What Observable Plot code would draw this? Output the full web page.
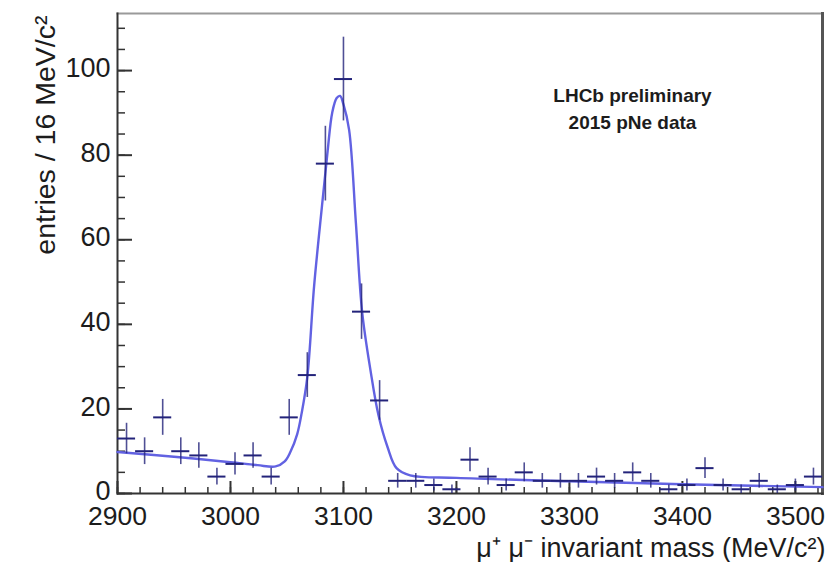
<!DOCTYPE html>
<html>
<head>
<meta charset="utf-8">
<script src="https://cdn.jsdelivr.net/npm/d3@7"></script>
<script src="https://cdn.jsdelivr.net/npm/@observablehq/plot@0.6"></script>
<style>
  html, body { margin: 0; padding: 0; background: #ffffff; }
  #chart { width: 838px; height: 562px; }
</style>
</head>
<body>
<div id="chart"></div>
<script>
// ---- Data ----
// bin centres (MeV/c^2), 16 MeV/c^2 bins from 2900 to 3524
const massBins = [2908, 2924, 2940, 2956, 2972, 2988, 3004, 3020, 3036, 3052,
                  3068, 3084, 3100, 3116, 3132, 3148, 3164, 3180, 3196, 3212,
                  3228, 3244, 3260, 3276, 3292, 3308, 3324, 3340, 3356, 3372,
                  3388, 3404, 3420, 3436, 3452, 3468, 3484, 3500, 3516];
const entries  = [13, 10, 18, 10, 9, 4, 7, 9, 4, 18,
                  28, 78, 98, 43, 22, 3, 3, 2, 1, 8,
                  4, 2, 5, 3, 3, 3, 4, 3, 5, 3,
                  1, 2, 6, 2, 1, 3, 1, 2, 4];
const binHalfWidth = 8;

// fitted curve
const fitMass    = [2900, 2950, 3000, 3024, 3040, 3048, 3053, 3059, 3063, 3068,
                    3074, 3081, 3086, 3090, 3094, 3097, 3100, 3105, 3111, 3116.5,
                    3124, 3131, 3139, 3147, 3159, 3200, 3300, 3400, 3524];
const fitEntries = [9.8, 8.7, 7.4, 6.7, 6.4, 7.6, 9.8, 14, 19, 27.5,
                    49, 68, 81, 90, 93.5, 94, 92, 86, 64, 43,
                    29, 18.5, 11, 6, 4.3, 3.7, 2.9, 2.2, 1.5];

// axes
const xDomain = [2900, 3524];
const yDomain = [0, 113.5];
const xMajorTicks = [2900, 3000, 3100, 3200, 3300, 3400, 3500];
const xMinorTicks = d3.range(2900, 3524, 20);
const yMajorTicks = [0, 20, 40, 60, 80, 100];
const yMinorTicks = d3.range(0, 113.5, 5);

const xTitle = "μ⁺ μ⁻ invariant mass (MeV/c²)";
const yTitle = "entries / 16 MeV/c²";
const notes  = ["LHCb preliminary", "2015 pNe data"];

// ---- Build ----
const points = massBins.map((m, i) => ({m, n: entries[i], err: Math.sqrt(entries[i])}));
const fit = fitMass.map((m, i) => ({m, n: fitEntries[i]}));

const W = 838, H = 562;
const mL = 117, mR = 16, mT = 13, mB = 69;
const plotW = W - mL - mR, plotH = H - mT - mB;

const markColor = "#23237a";
const fitColor = "#6262e2";
const textColor = "#1c1c1c";

const chart = Plot.plot({
  width: W,
  height: H,
  marginLeft: mL,
  marginRight: mR,
  marginTop: mT,
  marginBottom: mB,
  style: {fontFamily: "'Liberation Sans', Arial, Helvetica, sans-serif", background: "#ffffff", overflow: "visible"},
  x: {domain: xDomain, axis: null},
  y: {domain: yDomain, axis: null},
  marks: [
    // frame
    Plot.frame({anchor: "top", stroke: "#9a9a9a", strokeWidth: 2}),
    Plot.frame({anchor: "right", stroke: "#555", strokeWidth: 3}),
    Plot.frame({anchor: "left", stroke: "#333", strokeWidth: 2}),
    Plot.frame({anchor: "bottom", stroke: "#333", strokeWidth: 2}),
    // inner ticks
    Plot.tickX(xMajorTicks, {x: d => d, insetTop: plotH - 12, stroke: "#333", strokeWidth: 2}),
    Plot.tickX(xMinorTicks, {x: d => d, insetTop: plotH - 6, stroke: "#333", strokeWidth: 1.5}),
    Plot.tickY(yMajorTicks, {y: d => d, insetRight: plotW - 15, stroke: "#333", strokeWidth: 2}),
    Plot.tickY(yMinorTicks, {y: d => d, insetRight: plotW - 8, stroke: "#333", strokeWidth: 1.5}),
    // tick labels
    Plot.axisX({ticks: xMajorTicks, tickSize: 0, tickPadding: 13, fontSize: 26.5, tickFormat: "d", label: null, fill: textColor}),
    Plot.axisY({ticks: yMajorTicks, tickSize: 0, tickPadding: 7, fontSize: 27, tickFormat: "d", label: null, fill: textColor, dy: -2}),
    // axis titles
    Plot.text([xTitle], {frameAnchor: "bottom-right", textAnchor: "end", lineAnchor: "middle", dx: 3, dy: 54.5, fontSize: 27, fill: textColor}),
    Plot.text([yTitle], {frameAnchor: "top-left", textAnchor: "end", lineAnchor: "middle", rotate: -90, dx: -72, dy: 2, fontSize: 28.5, fill: textColor}),
    // fit curve
    Plot.line(fit, {x: "m", y: "n", curve: "catmull-rom", stroke: fitColor, strokeWidth: 2.4}),
    // data points with error bars
    Plot.ruleX(points, {x: "m", y1: d => d.n - d.err, y2: d => d.n + d.err, stroke: markColor, strokeWidth: 1.6, strokeOpacity: 0.8}),
    Plot.ruleY(points, {y: "n", x1: d => d.m - binHalfWidth, x2: d => d.m + binHalfWidth, stroke: markColor, strokeWidth: 2}),
    // annotations
    Plot.text([notes[0]], {frameAnchor: "top-right", textAnchor: "middle", lineAnchor: "middle", dx: -190, dy: 82, fontSize: 19, fontWeight: "bold", fill: textColor}),
    Plot.text([notes[1]], {frameAnchor: "top-right", textAnchor: "middle", lineAnchor: "middle", dx: -190, dy: 109, fontSize: 19, fontWeight: "bold", fill: textColor})
  ]
});

document.getElementById("chart").appendChild(chart);
</script>
</body>
</html>
